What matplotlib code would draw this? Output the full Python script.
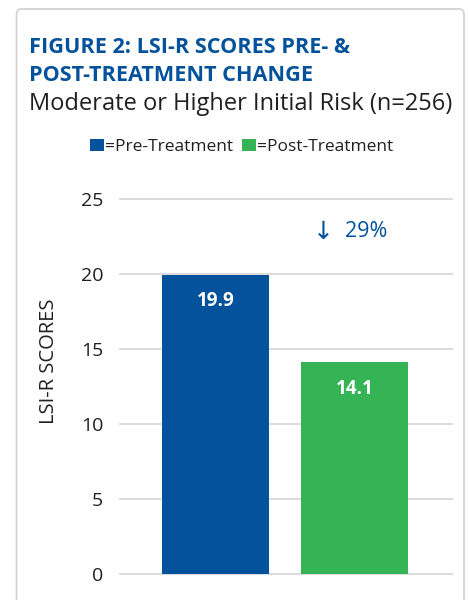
import matplotlib
matplotlib.use("Agg")
import matplotlib.pyplot as plt
from matplotlib.patches import FancyBboxPatch

categories = ["Pre-Treatment", "Post-Treatment"]
values = [19.9, 14.1]
value_labels = ["19.9", "14.1"]
yticks = [0, 5, 10, 15, 20, 25]
change_arrow = "\u2193"
change_label = "29%"

BLUE = "#04529B"
GREEN = "#35B455"
TXT = "#231f20"

plt.rcParams['font.family'] = ['Open Sans', 'DejaVu Sans']

fig = plt.figure(figsize=(4.68, 6.0), dpi=100)

# border
border = FancyBboxPatch((16.5/468, -0.05), (464-16.5)/468, 1.05 - 9/600,
                        boxstyle="round,pad=0,rounding_size=0.01",
                        transform=fig.transFigure, facecolor="none",
                        edgecolor="#cfcfcf", linewidth=1.2, zorder=-1)
fig.patches.append(border)

ax = fig.add_axes([120/468, 1-574/600, (452-120)/468, (574-198.5)/600])
ax.set_facecolor("none")
x = list(range(len(categories)))
ax.bar(x, values, width=0.77, color=[BLUE, GREEN], zorder=3)
ax.set_xlim(-0.687, 1.70)
ax.set_ylim(0, 25)
ax.set_yticks(yticks)
ax.set_yticklabels([str(t) for t in yticks], fontsize=14, color=TXT)
ax.set_xticks([])
for t in yticks:
    ax.axhline(t, color="#d9d9d9", lw=1.3, zorder=1, clip_on=False)
for s in ax.spines.values():
    s.set_visible(False)
ax.tick_params(axis='y', length=0, pad=12)

for xi, v, lab in zip(x, values, value_labels):
    ax.text(xi, v - 1.75, lab, ha='center', va='center', color='white',
            fontsize=13.5, fontweight='bold', zorder=4)

ax.annotate(change_arrow, xy=(1, 22.8), xytext=(-31, 0), textcoords='offset pixels',
            ha='center', va='center', color=BLUE, fontsize=18, family=['DejaVu Sans'])
ax.annotate(change_label, xy=(1, 22.8), xytext=(-10, 0), textcoords='offset pixels',
            ha='left', va='center', color=BLUE, fontsize=15.5)

fig.text(49.5/468, 1-361/600, "LSI-R SCORES", rotation=90, ha='center', va='center',
         fontsize=14.5, color=TXT)

fig.text(29/468, 1-53/600, "FIGURE 2: LSI-R SCORES PRE- &", ha='left', va='baseline',
         fontsize=15.6, fontweight='bold', color=BLUE)
fig.text(29/468, 1-81/600, "POST-TREATMENT CHANGE", ha='left', va='baseline',
         fontsize=15.6, fontweight='bold', color=BLUE)
fig.text(29/468, 1-110/600, "Moderate or Higher Initial Risk (n=256)", ha='left', va='baseline',
         fontsize=17, color=TXT)

# legend
fig.patches.append(plt.Rectangle((90/468, 1-151/600), 14/468, 12/600, transform=fig.transFigure,
                                 facecolor=BLUE, edgecolor='none'))
fig.text(105/468, 1-151/600, "=Pre-Treatment", ha='left', va='baseline', fontsize=12.5, color=TXT)
fig.patches.append(plt.Rectangle((242/468, 1-151/600), 14/468, 12/600, transform=fig.transFigure,
                                 facecolor=GREEN, edgecolor='none'))
fig.text(257/468, 1-151/600, "=Post-Treatment", ha='left', va='baseline', fontsize=12.5, color=TXT)

fig.savefig("out.png", dpi=100)
